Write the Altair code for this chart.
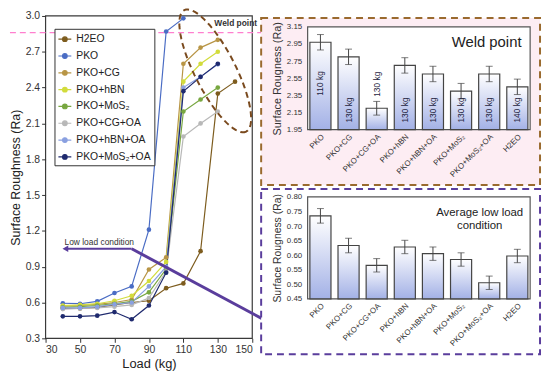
import math
import altair as alt
import pandas as pd

FONT = "Liberation Sans"

# ---------------- left chart data ----------------
loads = [40, 50, 60, 70, 80, 90, 100, 110, 120, 130, 140]
series_names = ["H2EO", "PKO", "PKO+CG", "PKO+hBN", "PKO+MoS₂",
                "PKO+CG+OA", "PKO+hBN+OA", "PKO+MoS₂+OA"]
series_colors = ["#7d5c1e", "#4a6cc4", "#b89545", "#d2dc3c", "#78a740",
                 "#b8b8b8", "#8aa0e0", "#1f2a6e"]
h2eo = [0.55, 0.55, 0.56, 0.58, 0.60, 0.615, 0.72, 0.76, 1.03, 2.35, 2.45]
pko = [0.594, 0.59, 0.61, 0.68, 0.735, 1.21, 2.87, 2.98]
pko_cg = [0.57, 0.575, 0.585, 0.60, 0.625, 0.877, 0.978, 2.60, 2.735, 2.80]
pko_hbn = [0.575, 0.58, 0.59, 0.615, 0.657, 0.78, 0.94, 2.45, 2.60, 2.70]
pko_mos2 = [0.56, 0.565, 0.575, 0.59, 0.61, 0.685, 0.88, 2.20, 2.30, 2.40]
pko_cg_oa = [0.545, 0.55, 0.555, 0.565, 0.58, 0.638, 0.86, 1.99, 2.10, 2.20]
pko_hbn_oa = [0.555, 0.555, 0.565, 0.585, 0.60, 0.735, 0.90, 2.40, 2.49, 2.595]
pko_mos2_oa = [0.484, 0.484, 0.49, 0.52, 0.46, 0.575, 0.85, 2.37, 2.49, 2.60]
x_ticks = [30, 50, 70, 90, 110, 130, 150]
y_ticks = [0.3, 0.6, 0.9, 1.2, 1.5, 1.8, 2.1, 2.4, 2.7, 3.0]

# ---------------- bar chart data ----------------
bar_cats = ["PKO", "PKO+CG", "PKO+CG+OA", "PKO+hBN", "PKO+hBN+OA",
            "PKO+MoS₂", "PKO+MoS₂+OA", "H2EO"]
weld_vals = [2.97, 2.80, 2.20, 2.70, 2.60, 2.40, 2.60, 2.45]
weld_err = [0.09, 0.09, 0.08, 0.09, 0.09, 0.09, 0.09, 0.09]
weld_loads = ["110 kg", "130 kg", "130 kg", "130 kg", "130 kg", "130 kg", "130 kg", "140 kg"]
weld_ticks = [1.95, 2.15, 2.35, 2.55, 2.75, 2.95, 3.15]
low_vals = [0.735, 0.633, 0.565, 0.628, 0.605, 0.585, 0.505, 0.597]
low_err = [0.025, 0.025, 0.023, 0.023, 0.023, 0.023, 0.023, 0.023]
low_ticks = [0.45, 0.50, 0.55, 0.60, 0.65, 0.70, 0.75, 0.80]

rows = []
for name, vals in zip(series_names, [h2eo, pko, pko_cg, pko_hbn, pko_mos2,
                                     pko_cg_oa, pko_hbn_oa, pko_mos2_oa]):
    for L, v in zip(loads, vals):
        rows.append({"series": name, "load": L, "ra": v})
df = pd.DataFrame(rows)
one = pd.DataFrame({"k": [0]})

# ---------------- left chart ----------------
W_L, H_L = 209, 326
xsc = alt.Scale(domain=[30, 150], nice=False, zero=False, range=[0, W_L])
ysc = alt.Scale(domain=[0.3, 3.0], nice=False, zero=False, range=[H_L, 0])
xax = alt.Axis(values=x_ticks, title="Load (kg)", grid=False, domain=False, tickSize=4,
               tickColor="#333", labelColor="#333", labelFontSize=10.5, titleFontSize=13,
               titleFontWeight="normal", titleColor="#222", labelPadding=2, titlePadding=3,
               labelOverlap=False, zindex=1)
yax = alt.Axis(values=y_ticks, format=".1f", title="Surface Roughness  (Ra)", grid=False,
               domain=False, tickSize=4, tickColor="#333", labelColor="#333",
               labelFontSize=10.5, titleFontSize=12.5, titleFontWeight="normal",
               titleColor="#222", labelPadding=2, titlePadding=3, labelOverlap=False, zindex=1)


def XD(v):
    return alt.X(datum=v, scale=xsc, axis=xax, type="quantitative")


def YD(v):
    return alt.Y(datum=v, scale=ysc, axis=yax, type="quantitative")


frame_l = alt.Chart(one).mark_rect(fill="white", stroke="#3a3a3a", strokeWidth=1.2).encode(
    x=alt.value(0), x2=alt.value(W_L), y=alt.value(0), y2=alt.value(H_L))

pink_line = alt.Chart(one).mark_rule(color="#ff7fcf", strokeDash=[6, 4], strokeWidth=1.2).encode(
    x=alt.value(-36), x2=alt.value(218), y=YD(2.86))

legend_path = "M-1,0L1,0M0.36,0A0.36,0.36,0,1,1,-0.36,0A0.36,0.36,0,1,1,0.36,0Z"
lines = alt.Chart(df).mark_line(
    point=alt.OverlayMarkDef(size=22, filled=True), strokeWidth=1.2
).encode(
    x=alt.X("load:Q", scale=xsc, axis=xax),
    y=alt.Y("ra:Q", scale=ysc, axis=yax),
    color=alt.Color("series:N", scale=alt.Scale(domain=series_names, range=series_colors),
                    legend=alt.Legend(title=None, orient="none", legendX=9, legendY=13,
                                      fillColor="white", strokeColor="#333", padding=3,
                                      labelFontSize=10.5, labelColor="#222", rowPadding=4,
                                      symbolType=legend_path, symbolSize=170,
                                      symbolStrokeWidth=1.2, labelOffset=4)),
)

# dashed ellipse outline (symbol shape: unit ellipse, ratio 0.3, tilted 63 degrees)
_rot = math.radians(63)
_pts = []
for i in range(72):
    t = 2 * math.pi * i / 72
    ex, ey = math.cos(t), 0.3 * math.sin(t)
    _pts.append((ex * math.cos(_rot) - ey * math.sin(_rot),
                 ex * math.sin(_rot) + ey * math.cos(_rot)))
ellipse_path = "M" + "L".join(f"{px:.4f},{py:.4f}" for px, py in _pts) + "Z"
ellipse = alt.Chart(one).mark_point(
    shape=ellipse_path, size=19000, filled=False, stroke="#7a4a1e",
    strokeWidth=2, strokeDash=[6, 4], opacity=1
).encode(x=XD(128.5), y=YD(2.54))

weld_txt = alt.Chart(one).mark_text(text="Weld point", align="left", baseline="middle",
                                    fontSize=8.5, fontWeight="bold", color="#333").encode(
    x=XD(128), y=YD(2.94))

PURPLE = "#5a3d9c"
slash = alt.Chart(one).mark_rule(color=PURPLE, strokeWidth=3).encode(
    x=XD(80), y=YD(1.05), x2=alt.X2(datum=155.7), y2=alt.Y2(datum=0.465))
arrow = alt.Chart(one).mark_rule(color=PURPLE, strokeWidth=2).encode(
    x=XD(41.5), x2=alt.X2(datum=80), y=YD(1.05))
arrow_head = alt.Chart(one).mark_point(shape="triangle-left", filled=True, size=45,
                                       color=PURPLE, opacity=1).encode(
    x=XD(41.5), y=YD(1.05))
low_txt = alt.Chart(one).mark_text(text="Low load condition", align="left", baseline="middle",
                                   fontSize=8.5, color="#333").encode(
    x=XD(41), y=YD(1.11))

left = alt.layer(frame_l, pink_line, lines, ellipse, weld_txt, slash, arrow,
                 arrow_head, low_txt).properties(width=W_L, height=H_L)

# ---------------- bar charts ----------------
W_R = 225
grad = alt.Gradient(gradient="linear",
                    stops=[alt.GradientStop(color="#ffffff", offset=0),
                           alt.GradientStop(color="#a3b1e6", offset=1)],
                    x1=0, x2=0, y1=0, y2=1)


def bar_panel(vals, errs, ticks, top_px, h, base, box_color, box_fill, box_y, title_size):
    d = pd.DataFrame({"cat": bar_cats, "v": vals, "e": errs})
    d["lo"] = d["v"] - d["e"]
    d["hi"] = d["v"] + d["e"]
    bxax = alt.Axis(title=None, labelAngle=315, labelFontSize=8, labelColor="#333",
                    ticks=False, domain=False, labelPadding=3, zindex=1)
    xsc2 = alt.Scale(paddingInner=0.25, paddingOuter=0.08)
    ysc2 = alt.Scale(domain=[ticks[0], ticks[-1]], nice=False, zero=False, range=[h, top_px])
    byax = alt.Axis(
        values=ticks, format=".2f", title="Surface Rougness (Ra)", grid=False, domain=False,
        ticks=False, labelFontSize=8, labelColor="#333", labelPadding=6, labelOverlap=False,
        titleFontSize=title_size, titleFontWeight="normal", titleColor="#333",
        titlePadding=4, zindex=1)

    def X():
        return alt.X("cat:N", sort=bar_cats, scale=xsc2, axis=bxax)

    def Y(f):
        return alt.Y(f, scale=ysc2, axis=byax)

    box = alt.Chart(one).mark_rect(fill=box_fill, stroke=box_color, strokeWidth=2,
                                   strokeDash=[7, 5]).encode(
        x=alt.value(-47), x2=alt.value(235), y=alt.value(box_y[0]), y2=alt.value(box_y[1]))
    frame = alt.Chart(one).mark_rect(fill="white", stroke="#555", strokeWidth=1.2).encode(
        x=alt.value(0), x2=alt.value(W_R), y=alt.value(top_px), y2=alt.value(h))
    bars = alt.Chart(d).mark_bar(color=grad, stroke="#444", strokeWidth=1.2).encode(
        x=X(), y=Y("v:Q"), y2=alt.Y2(datum=base))
    rule = alt.Chart(d).mark_rule(color="#444", strokeWidth=1).encode(
        x=X(), y=Y("lo:Q"), y2="hi:Q")
    cap_lo = alt.Chart(d).mark_tick(color="#444", size=7, thickness=1).encode(
        x=X(), y=Y("lo:Q"))
    cap_hi = alt.Chart(d).mark_tick(color="#444", size=7, thickness=1).encode(
        x=X(), y=Y("hi:Q"))
    return d, X, Y, [box, frame, bars, rule, cap_lo, cap_hi]


H_T = 115
dT, XT, YT, layersT = bar_panel(weld_vals, weld_err, weld_ticks, 11, H_T, 1.95,
                                "#9a6a2e", "#fdedf3", (2, 171), 11)
dT["lab"] = weld_loads
lab = alt.Chart(dT).transform_calculate(
    ly="datum.v > 2.9 ? (datum.v + 1.95) / 2 + 0.03 : (datum.v < 2.3 ? datum.v + 0.28 : 2.18)"
).mark_text(angle=270, fontSize=8.5, color="#1e2340", baseline="middle", align="center").encode(
    x=XT(), y=YT("ly:Q"), text="lab:N")
weld_title = alt.Chart(one).mark_text(text="Weld point", fontSize=15, color="#222",
                                      align="center", baseline="middle").encode(
    x=alt.value(181), y=alt.value(26))
top = alt.layer(*layersT, lab, weld_title).properties(width=W_R, height=H_T)

H_B = 103
dB, XB, YB, layersB = bar_panel(low_vals, low_err, low_ticks, 0, H_B, 0.45,
                                PURPLE, "white", (-8, 159), 10.5)
avg_title = alt.Chart(one).mark_text(text=["Average low load", "condition"], fontSize=11.5,
                                     color="#222", align="center", baseline="middle",
                                     lineHeight=13).encode(
    x=alt.value(174), y=alt.value(16))
bottom = alt.layer(*layersB, avg_title).properties(width=W_R, height=H_B)

right = alt.vconcat(top, bottom, spacing=68, bounds="flush")

chart = alt.hconcat(left, right, spacing=56, bounds="flush").properties(
    padding={"top": -6, "left": 0, "right": 0, "bottom": 0}, background="white"
).configure(font=FONT).configure_view(stroke="transparent").configure_axis(labelOverlap=False)

chart.save("out.html", embed_options={"renderer": "svg", "actions": False})
